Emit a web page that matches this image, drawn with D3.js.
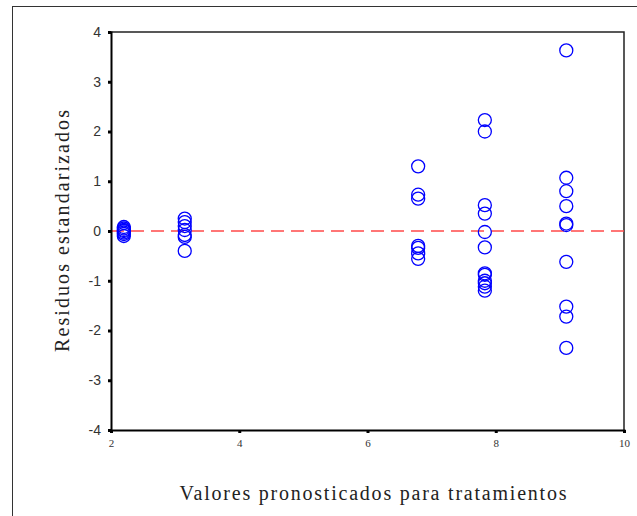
<!DOCTYPE html>
<html><head><meta charset="utf-8">
<script src="https://cdn.jsdelivr.net/npm/d3@7"></script>
<style>body{margin:0;background:#fff}svg{display:block}</style>
</head><body>
<script>
const groupX = [2.2, 3.15, 6.79, 7.83, 9.1];
const groupResiduals = [
  [0.08, 0.05, 0.02, 0.0, -0.03, -0.06, -0.1],
  [0.25, 0.18, 0.1, 0.02, -0.08, -0.12, -0.4],
  [1.3, 0.73, 0.65, -0.3, -0.34, -0.45, -0.56],
  [2.23, 2.0, 0.52, 0.35, -0.02, -0.33, -0.85, -0.88, -1.0, -1.05, -1.12, -1.2],
  [3.63, 1.07, 0.8, 0.5, 0.15, 0.12, -0.62, -1.52, -1.72, -2.35]
];
const xTicks = [2, 4, 6, 8, 10];
const yTicks = [-4, -3, -2, -1, 0, 1, 2, 3, 4];
const xLabel = "Valores pronosticados para tratamientos";
const yLabel = "Residuos estandarizados";

const W = 637, H = 516;
const svg = d3.select("body").append("svg").attr("width", W).attr("height", H);
// outer frame
svg.append("rect").attr("x", 12.5).attr("y", 6.5).attr("width", 700).attr("height", 600)
  .attr("fill", "none").attr("stroke", "#333").attr("stroke-width", 1);

const L = 111, R = 624, T = 32, B = 430;
const x = d3.scaleLinear().domain([2, 10]).range([L, R]);
const y = d3.scaleLinear().domain([-4, 4]).range([B, T]);

// plot box top/right
svg.append("path").attr("d", `M${L},${T}H${R}V${B}`).attr("fill", "none")
  .attr("stroke", "#222").attr("stroke-width", 1.5);

// reference line
svg.append("line").attr("x1", L).attr("x2", R).attr("y1", y(0)).attr("y2", y(0))
  .attr("stroke", "#ff4a4a").attr("stroke-width", 1.5).attr("stroke-dasharray", "13,7");

// points
const pts = [];
groupX.forEach((gx, i) => groupResiduals[i].forEach(v => pts.push([gx, v])));
svg.append("g").selectAll("circle").data(pts).join("circle")
  .attr("cx", d => x(d[0])).attr("cy", d => y(d[1])).attr("r", 6.5)
  .attr("fill", "none").attr("stroke", "#0000ff").attr("stroke-width", 1.3);

// axes
const yAxis = d3.axisLeft(y).tickValues(yTicks).tickSize(3).tickPadding(7).tickFormat(d3.format("d"));
const gy = svg.append("g").attr("transform", `translate(${L},0)`).call(yAxis);
gy.select(".domain").attr("stroke", "#000").attr("stroke-width", 2);
gy.selectAll(".tick line").attr("stroke", "#000").attr("stroke-width", 3);
gy.selectAll(".tick text").attr("font-family", "Liberation Sans, Arial, sans-serif")
  .attr("font-size", 14).attr("fill", "#333").text(d => d < 0 ? "-" + Math.abs(d) : d);

const xAxis = d3.axisBottom(x).tickValues(xTicks).tickSize(3).tickPadding(6).tickFormat(d3.format("d"));
const gx = svg.append("g").attr("transform", `translate(0,${B})`).call(xAxis);
gx.select(".domain").attr("stroke", "#000").attr("stroke-width", 2);
gx.selectAll(".tick line").attr("stroke", "#000").attr("stroke-width", 3);
gx.selectAll(".tick text").attr("font-family", "Liberation Serif, Times New Roman, serif")
  .attr("font-size", 11).attr("fill", "#333");

// labels
svg.append("text").attr("x", 373).attr("y", 500).attr("text-anchor", "middle")
  .attr("font-family", "Liberation Serif, Times New Roman, serif").attr("font-size", 20)
  .attr("fill", "#222").attr("textLength", 387).attr("lengthAdjust", "spacing").text(xLabel);
svg.append("text").attr("transform", `translate(69,231) rotate(-90)`)
  .attr("text-anchor", "middle")
  .attr("font-family", "Liberation Serif, Times New Roman, serif").attr("font-size", 20)
  .attr("fill", "#222").attr("textLength", 242).attr("lengthAdjust", "spacing").text(yLabel);
</script>
</body></html>
